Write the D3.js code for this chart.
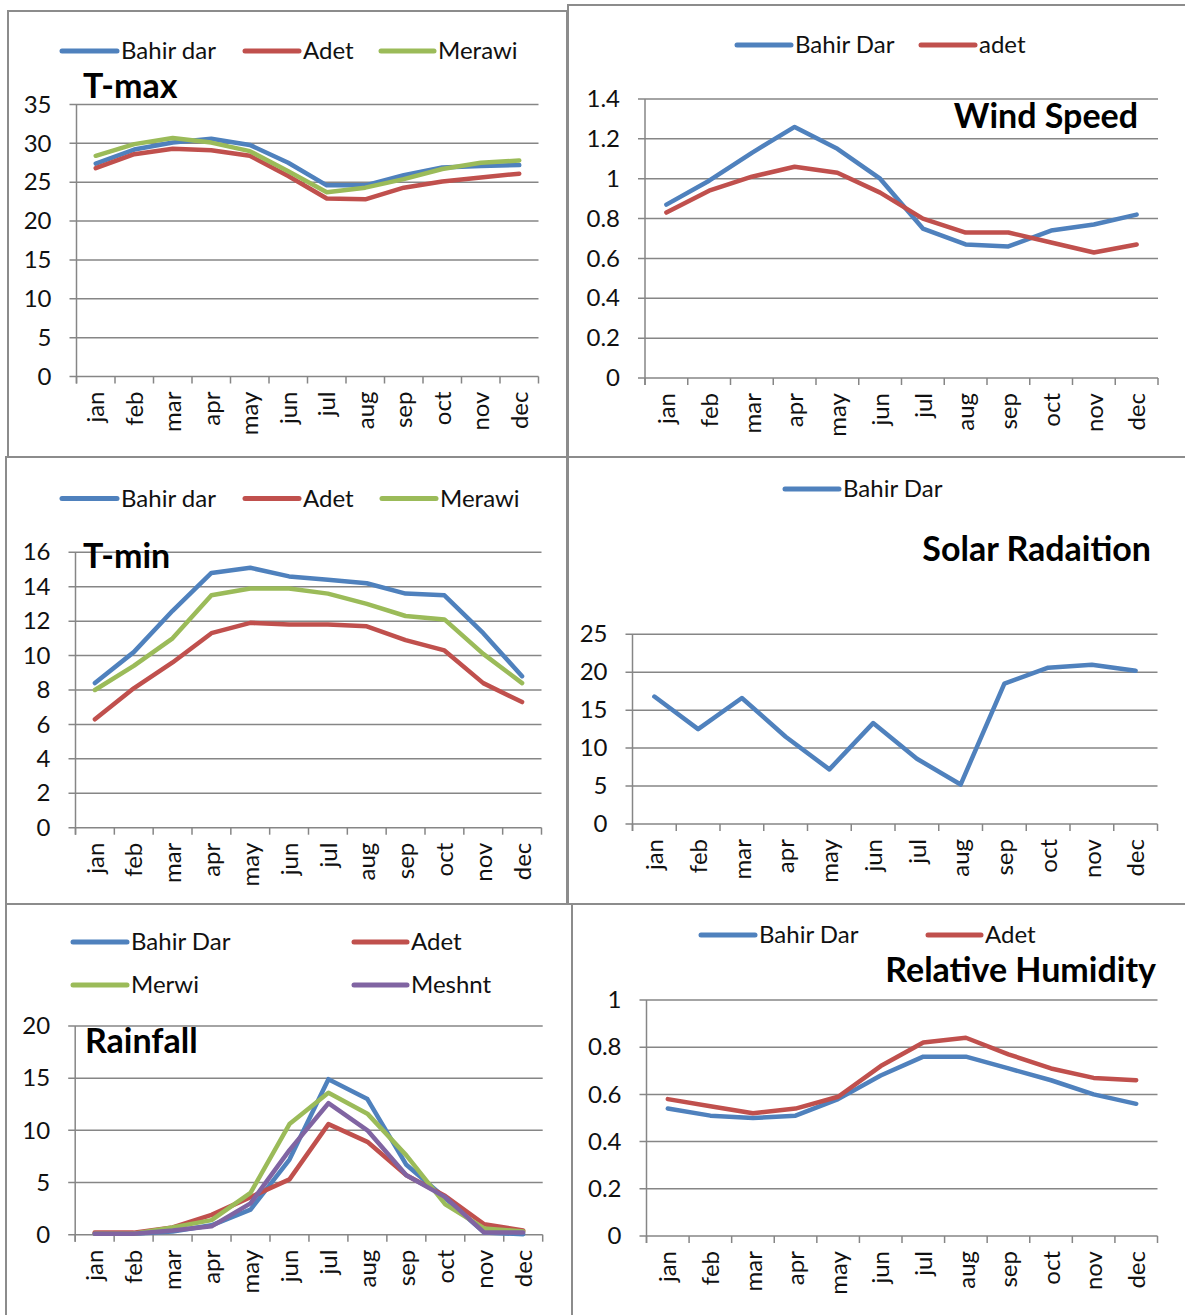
<!DOCTYPE html>
<html>
<head>
<meta charset="utf-8">
<script src="https://cdn.jsdelivr.net/npm/d3@7/dist/d3.min.js"></script>
<style>
  html, body { margin: 0; padding: 0; background: #fff; }
  svg { display: block; font-family: 'Lato', 'Noto Sans', sans-serif; }
</style>
</head>
<body>
<svg id="chart" width="1185" height="1315"></svg>
<script>
// ---- data ----
const months = ["jan","feb","mar","apr","may","jun","jul","aug","sep","oct","nov","dec"];

const tmaxBahirDar = [27.4, 29.2, 30.1, 30.6, 29.8, 27.5, 24.6, 24.6, 25.9, 26.9, 27.1, 27.2];
const tmaxAdet     = [26.8, 28.6, 29.3, 29.1, 28.4, 25.8, 22.9, 22.8, 24.3, 25.1, 25.6, 26.1];
const tmaxMerawi   = [28.4, 29.9, 30.7, 30.1, 29.0, 26.4, 23.7, 24.3, 25.4, 26.7, 27.5, 27.8];
const tmaxTicks    = [0, 5, 10, 15, 20, 25, 30, 35];

const windBahirDar = [0.87, 0.99, 1.13, 1.26, 1.15, 1.00, 0.75, 0.67, 0.66, 0.74, 0.77, 0.82];
const windAdet     = [0.83, 0.94, 1.01, 1.06, 1.03, 0.93, 0.80, 0.73, 0.73, 0.68, 0.63, 0.67];
const windTicks    = [0, 0.2, 0.4, 0.6, 0.8, 1, 1.2, 1.4];

const tminBahirDar = [8.4, 10.2, 12.6, 14.8, 15.1, 14.6, 14.4, 14.2, 13.6, 13.5, 11.3, 8.8];
const tminAdet     = [6.3, 8.1, 9.6, 11.3, 11.9, 11.8, 11.8, 11.7, 10.9, 10.3, 8.4, 7.3];
const tminMerawi   = [8.0, 9.4, 11.0, 13.5, 13.9, 13.9, 13.6, 13.0, 12.3, 12.1, 10.1, 8.4];
const tminTicks    = [0, 2, 4, 6, 8, 10, 12, 14, 16];

const solarBahirDar = [16.8, 12.5, 16.6, 11.5, 7.2, 13.3, 8.6, 5.2, 18.5, 20.6, 21.0, 20.2];
const solarTicks    = [0, 5, 10, 15, 20, 25];

const rainBahirDar = [0.1, 0.1, 0.3, 0.9, 2.4, 7.2, 14.9, 13.0, 6.7, 3.5, 0.2, 0.05];
const rainAdet     = [0.2, 0.2, 0.7, 1.9, 3.6, 5.3, 10.6, 8.9, 5.7, 3.7, 1.0, 0.4];
const rainMerwi    = [0.1, 0.1, 0.7, 1.4, 4.0, 10.6, 13.6, 11.6, 7.6, 2.9, 0.6, 0.3];
const rainMeshnt   = [0.1, 0.1, 0.4, 0.8, 3.0, 8.1, 12.6, 10.0, 5.7, 3.6, 0.2, 0.2];
const rainTicks    = [0, 5, 10, 15, 20];

const rhBahirDar = [0.54, 0.51, 0.50, 0.51, 0.58, 0.68, 0.76, 0.76, 0.71, 0.66, 0.60, 0.56];
const rhAdet     = [0.58, 0.55, 0.52, 0.54, 0.59, 0.72, 0.82, 0.84, 0.77, 0.71, 0.67, 0.66];
const rhTicks    = [0, 0.2, 0.4, 0.6, 0.8, 1];

// ---- styling ----
const BLUE = "#4f81bd", RED = "#c0504d", GREEN = "#9bbb59", PURPLE = "#8064a2";
const GRID = "#868686", FRAME = "#8c8c8c";
const FS = 24, TITLE_FS = 34;

// ---- panel layout ----
const panels = [
  { frame: [8, 11, 559, 446], plot: { x0: 76.5, x1: 538.5, yTop: 104.5, yBot: 376.5 },
    ticks: tmaxTicks, title: "T-max", titleX: 83, titleY: 98, titleAnchor: "start",
    series: [
      { name: "Bahir dar", values: tmaxBahirDar, color: BLUE,  lx: 62,  tx: 121, ly: 51 },
      { name: "Adet",      values: tmaxAdet,     color: RED,   lx: 245, tx: 303, ly: 51 },
      { name: "Merawi",    values: tmaxMerawi,   color: GREEN, lx: 381, tx: 438, ly: 51 }
    ] },
  { frame: [568, 5, 700, 452], plot: { x0: 645, x1: 1158, yTop: 99, yBot: 378 },
    ticks: windTicks, title: "Wind Speed", titleX: 1138, titleY: 128, titleAnchor: "end",
    series: [
      { name: "Bahir Dar", values: windBahirDar, color: BLUE, lx: 737, tx: 795, ly: 45 },
      { name: "adet",      values: windAdet,     color: RED,  lx: 921, tx: 979, ly: 45 }
    ] },
  { frame: [6, 457, 561, 447], plot: { x0: 75.5, x1: 541.5, yTop: 552.3, yBot: 827.7 },
    ticks: tminTicks, title: "T-min", titleX: 83, titleY: 567.5, titleAnchor: "start",
    series: [
      { name: "Bahir dar", values: tminBahirDar, color: BLUE,  lx: 62,  tx: 121, ly: 498.5 },
      { name: "Adet",      values: tminAdet,     color: RED,   lx: 245, tx: 303, ly: 498.5 },
      { name: "Merawi",    values: tminMerawi,   color: GREEN, lx: 382, tx: 440, ly: 498.5 }
    ] },
  { frame: [568, 457, 700, 447], plot: { x0: 632.5, x1: 1157.5, yTop: 634.3, yBot: 824 },
    ticks: solarTicks, title: "Solar Radaition", titleX: 1151, titleY: 561, titleAnchor: "end",
    series: [
      { name: "Bahir Dar", values: solarBahirDar, color: BLUE, lx: 785, tx: 843, ly: 489 }
    ] },
  { frame: [6, 904, 566, 500], plot: { x0: 75.2, x1: 542.7, yTop: 1026, yBot: 1234.7 },
    ticks: rainTicks, title: "Rainfall", titleX: 85, titleY: 1052.5, titleAnchor: "start",
    series: [
      { name: "Bahir Dar", values: rainBahirDar, color: BLUE,   lx: 73,  tx: 131, ly: 942 },
      { name: "Adet",      values: rainAdet,     color: RED,    lx: 354, tx: 411, ly: 942 },
      { name: "Merwi",     values: rainMerwi,    color: GREEN,  lx: 73,  tx: 131, ly: 985 },
      { name: "Meshnt",    values: rainMeshnt,   color: PURPLE, lx: 354, tx: 411, ly: 985 }
    ] },
  { frame: [572, 904, 700, 500], plot: { x0: 646.5, x1: 1157.5, yTop: 1000, yBot: 1236 },
    ticks: rhTicks, title: "Relative Humidity", titleX: 1156, titleY: 982, titleAnchor: "end",
    series: [
      { name: "Bahir Dar", values: rhBahirDar, color: BLUE, lx: 701, tx: 759, ly: 935 },
      { name: "Adet",      values: rhAdet,     color: RED,  lx: 928, tx: 985, ly: 935 }
    ] }
];

const svg = d3.select("#chart");
svg.append("rect").attr("width", 1185).attr("height", 1315).attr("fill", "#fff");

// panel frames
svg.append("g").selectAll("rect").data(panels).join("rect")
  .attr("x", d => d.frame[0]).attr("y", d => d.frame[1])
  .attr("width", d => d.frame[2]).attr("height", d => d.frame[3])
  .attr("fill", "none").attr("stroke", FRAME).attr("stroke-width", 2);

const TICK = 7;

panels.forEach(p => {
  const g = svg.append("g");
  const { x0, x1, yTop, yBot } = p.plot;

  const x = d3.scaleBand().domain(months).range([x0, x1]).paddingInner(0).paddingOuter(0);
  const y = d3.scaleLinear().domain([0, d3.max(p.ticks)]).range([yBot, yTop]);
  const cx = m => x(m) + x.bandwidth() / 2;

  // horizontal gridlines (extend left as tick marks)
  g.append("g").selectAll("line").data(p.ticks).join("line")
    .attr("x1", x0 - TICK).attr("x2", x1)
    .attr("y1", d => y(d)).attr("y2", d => y(d))
    .attr("stroke", GRID).attr("stroke-width", 1.5);

  // vertical axis line
  g.append("line").attr("x1", x0).attr("x2", x0)
    .attr("y1", yTop).attr("y2", yBot + TICK)
    .attr("stroke", GRID).attr("stroke-width", 1.5);

  // category tick marks at band boundaries
  const bounds = months.map(m => x(m)).concat([x1]);
  g.append("g").selectAll("line").data(bounds).join("line")
    .attr("x1", d => d).attr("x2", d => d)
    .attr("y1", yBot).attr("y2", yBot + TICK)
    .attr("stroke", GRID).attr("stroke-width", 1.5);

  // y tick labels
  const yAxis = d3.axisLeft(y).tickValues(p.ticks).tickSize(0).tickPadding(25)
    .tickFormat(d => String(d));
  const ya = g.append("g").attr("transform", `translate(${x0},0)`).call(yAxis);
  ya.select(".domain").remove();
  ya.selectAll("text").attr("font-size", FS).attr("fill", "#111")
    .attr("font-family", "'Lato', sans-serif");

  // month labels (rotated)
  g.append("g").selectAll("text").data(months).join("text")
    .attr("transform", d => `translate(${cx(d)},${yBot + 15}) rotate(-90)`)
    .attr("text-anchor", "end").attr("dy", "0.36em")
    .attr("font-size", FS).attr("fill", "#111")
    .text(d => d);

  // series lines
  const line = d3.line().x((d, i) => cx(months[i])).y(d => y(d));
  g.append("g").selectAll("path").data(p.series).join("path")
    .attr("d", s => line(s.values))
    .attr("fill", "none").attr("stroke", s => s.color)
    .attr("stroke-width", 4.5).attr("stroke-linejoin", "round").attr("stroke-linecap", "round");

  // legend
  const lg = g.append("g");
  p.series.forEach(s => {
    lg.append("line").attr("x1", s.lx).attr("x2", s.tx - 4)
      .attr("y1", s.ly).attr("y2", s.ly)
      .attr("stroke", s.color).attr("stroke-width", 5).attr("stroke-linecap", "round");
    lg.append("text").attr("x", s.tx).attr("y", s.ly).attr("dy", "0.35em")
      .attr("font-size", FS).attr("fill", "#111").text(s.name);
  });

  // title
  g.append("text").attr("x", p.titleX).attr("y", p.titleY)
    .attr("text-anchor", p.titleAnchor)
    .attr("font-size", TITLE_FS).attr("font-weight", "bold").attr("fill", "#000")
    .text(p.title);
});
</script>
</body>
</html>
